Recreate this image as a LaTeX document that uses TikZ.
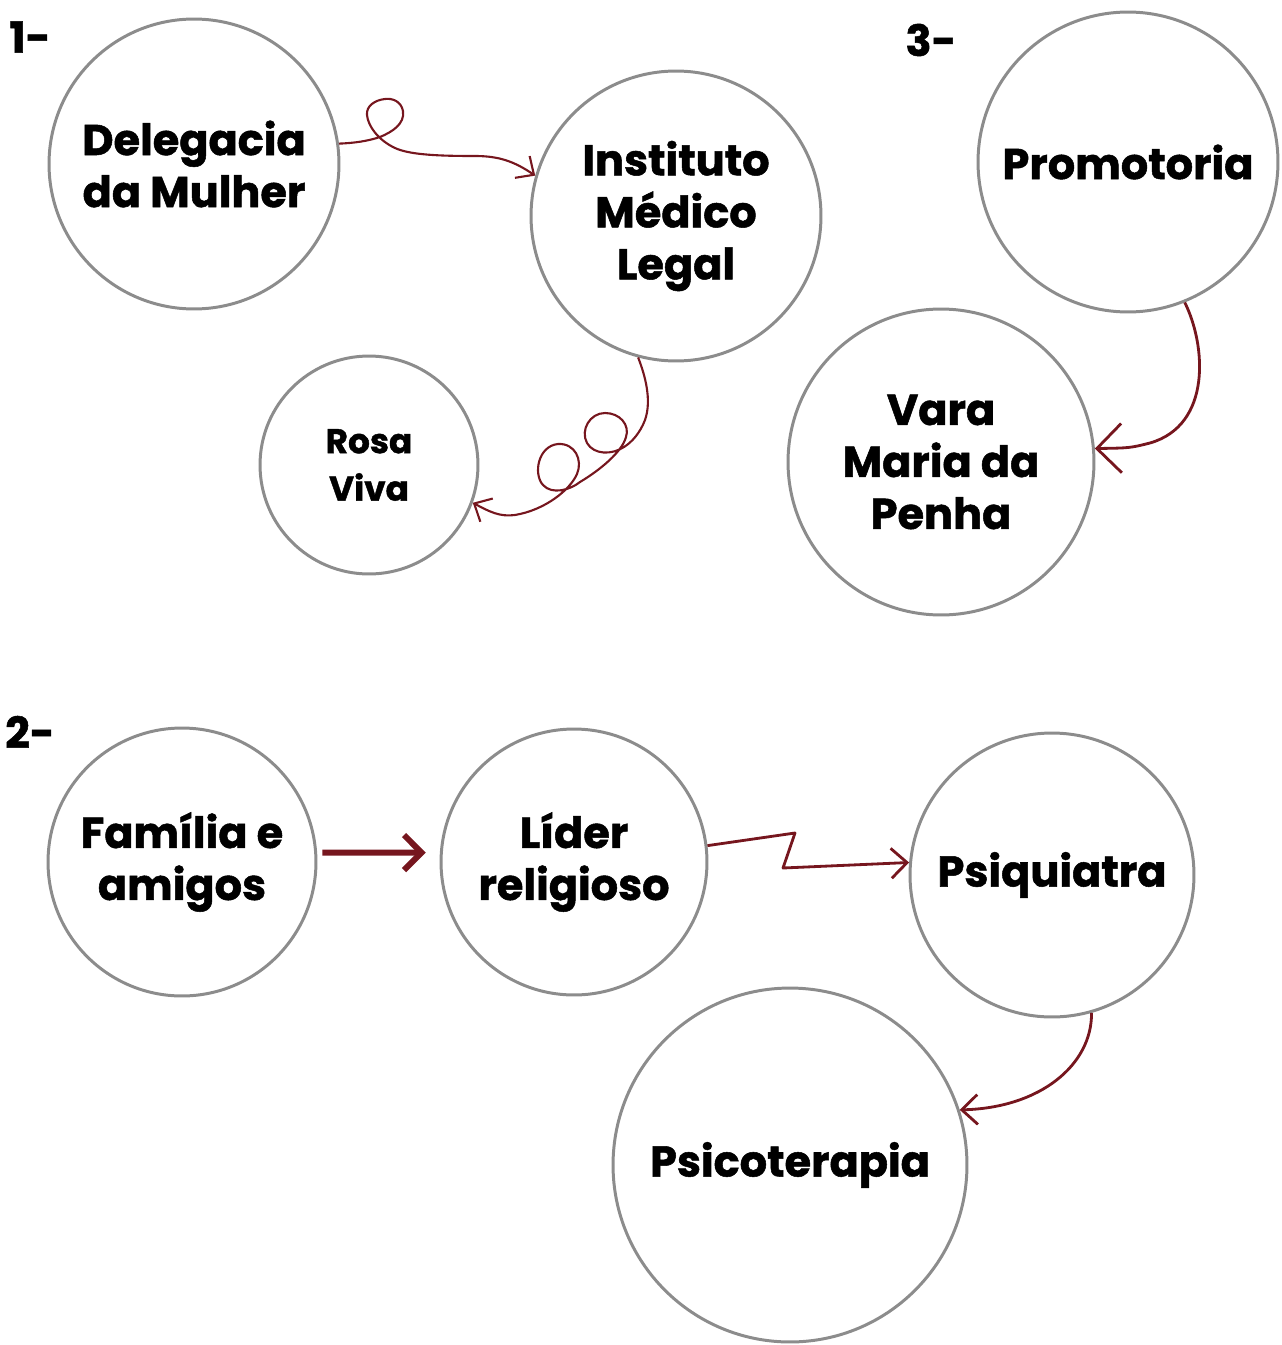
\documentclass[tikz,border=0pt]{standalone}
\usepackage{fontspec}
\setmainfont{Poppins}[BoldFeatures={FakeBold=1.2}]
\usetikzlibrary{arrows.meta}
\definecolor{ringgray}{RGB}{140,140,140}
\definecolor{arrowred}{RGB}{118,22,30}
\begin{document}
\begin{tikzpicture}[x=0.02cm, y=-0.02cm,
		bubble/.style={circle, draw=ringgray, line width=1.7pt, inner sep=0pt, align=center,
			font=\bfseries\fontsize{24.5}{29.6}\selectfont},
		numlabel/.style={font=\bfseries\fontsize{24.5}{28}\selectfont, inner sep=0pt},
		curly/.style={draw=arrowred, line width=1.2pt, -{Straight Barb[length=8pt,width=15pt]}},
		bent/.style={draw=arrowred, line width=1.6pt, line join=round, -{Straight Barb[length=9pt,width=17pt]}}]
				\useasboundingbox (0, 0) rectangle (1281, 1345);
				\node[numlabel] (one) at (30, 37) {1-};
				\node[numlabel] (three) at (931, 40) {3-};
				\node[numlabel] (two) at (30, 732) {2-};
				\node[bubble, minimum size=5.8cm] (deleg) at (194, 164) {Delegacia\\da Mulher};
				\node[bubble, minimum size=5.8cm] (iml) at (676, 216) {Instituto\\Médico\\Legal};
				\node[bubble, minimum size=4.36cm, font=\bfseries\fontsize{19.5}{27}\selectfont] (rosa) at (369, 465) {Rosa\\Viva};
				\node[bubble, minimum size=6cm] (promo) at (1128, 162) {Promotoria};
				\node[bubble, minimum size=6.12cm] (vara) at (941, 462) {Vara\\Maria da\\Penha};
				\node[bubble, minimum size=5.36cm] (familia) at (182, 862) {Família e\\amigos};
				\node[bubble, minimum size=5.32cm] (lider) at (574, 862) {Líder\\religioso};
				\node[bubble, minimum size=5.68cm] (psiq) at (1052, 875) {Psiquiatra};
				\node[bubble, minimum size=7.08cm] (psico) at (790, 1165) {Psicoterapia};
				\draw[curly] (deleg.8) .. controls (355, 143) and (368, 141) .. (380, 137)
					.. controls (392, 132) and (405, 124) .. (403, 111)
					.. controls (401, 101) and (392, 98) .. (385, 99)
					.. controls (375, 100) and (366, 106) .. (367, 115)
					.. controls (368, 126) and (378, 140) .. (395, 148)
					.. controls (410, 155) and (440, 156) .. (475, 156)
					.. controls (500, 156) and (515, 162) .. (iml.164);
				\draw[curly] (iml.255) .. controls (645, 375) and (652, 400) .. (645, 420)
					.. controls (640, 433) and (632, 442) .. (624, 447)
					.. controls (612, 455) and (594, 455) .. (587, 443)
					.. controls (580, 430) and (590, 413) .. (605, 413)
					.. controls (620, 413) and (630, 425) .. (626, 437)
					.. controls (622, 452) and (600, 470) .. (580, 482)
					.. controls (570, 490) and (552, 495) .. (543, 485)
					.. controls (533, 474) and (538, 446) .. (558, 444)
					.. controls (575, 443) and (583, 460) .. (577, 474)
					.. controls (570, 490) and (545, 510) .. (515, 515)
					.. controls (500, 517) and (490, 512) .. (rosa.340);
				\draw[bent, -{Straight Barb[length=14pt,width=28pt]}] (promo.292) .. controls (1206, 345) and (1212, 425) .. (1150, 443)
					.. controls (1130, 448) .. (vara.5);
				\draw[draw=arrowred, line width=3.4pt, -{Straight Barb[length=10pt,width=20pt]}] ([xshift=3pt]familia.4) -- ([xshift=-8pt]lider.176);
				\draw[bent] (lider.7) -- (795, 833) -- (783, 868) -- (psiq.175);
				\draw[bent] (psiq.286) .. controls (1092, 1065) and (1040, 1108) .. (psico.18);
			\end{tikzpicture}
\end{document}
